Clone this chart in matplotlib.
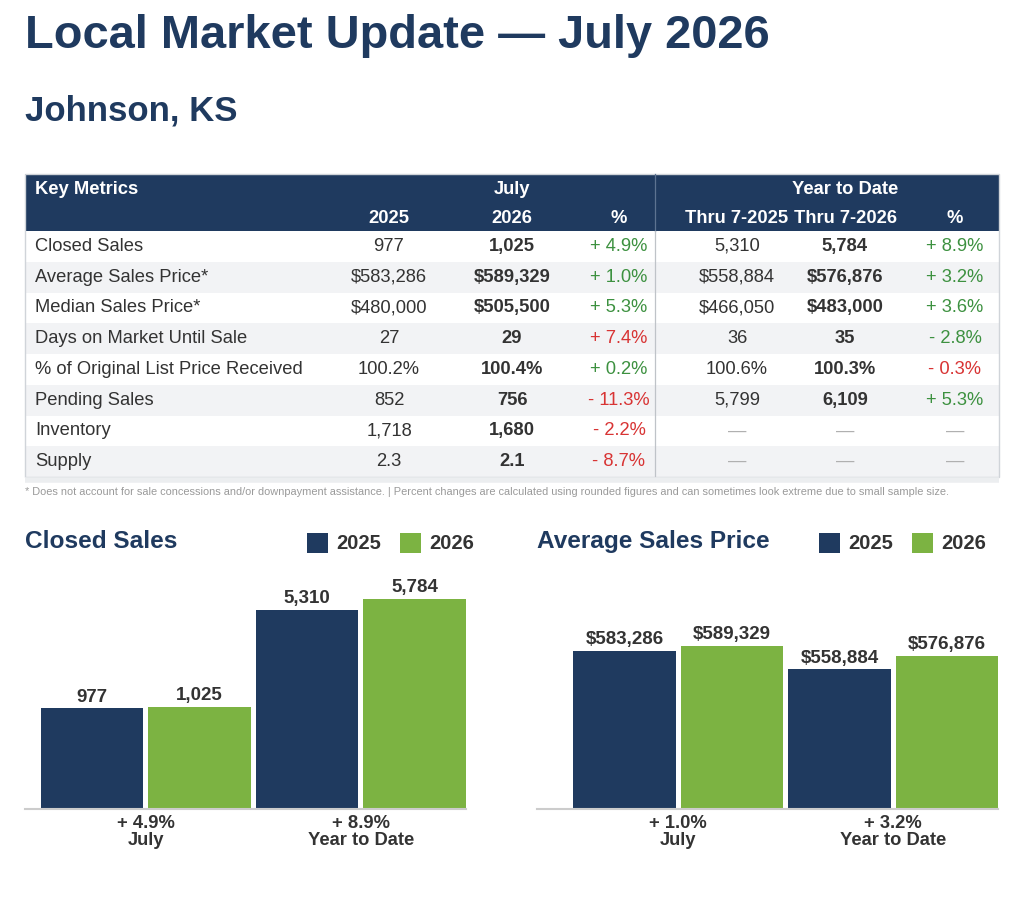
import matplotlib
matplotlib.use("Agg")
import matplotlib.pyplot as plt
from matplotlib.patches import Rectangle

plt.rcParams['font.family'] = ['Liberation Sans', 'DejaVu Sans']

# ---------------- data ----------------
title = "Local Market Update \u2014 July 2026"
subtitle = "Johnson, KS"

metrics = ["Closed Sales", "Average Sales Price*", "Median Sales Price*",
           "Days on Market Until Sale", "% of Original List Price Received",
           "Pending Sales", "Inventory", "Supply"]
july_2025 = ["977", "$583,286", "$480,000", "27", "100.2%", "852", "1,718", "2.3"]
july_2026 = ["1,025", "$589,329", "$505,500", "29", "100.4%", "756", "1,680", "2.1"]
july_pct = ["+ 4.9%", "+ 1.0%", "+ 5.3%", "+ 7.4%", "+ 0.2%", "- 11.3%", "- 2.2%", "- 8.7%"]
ytd_2025 = ["5,310", "$558,884", "$466,050", "36", "100.6%", "5,799", "\u2014", "\u2014"]
ytd_2026 = ["5,784", "$576,876", "$483,000", "35", "100.3%", "6,109", "\u2014", "\u2014"]
ytd_pct = ["+ 8.9%", "+ 3.2%", "+ 3.6%", "- 2.8%", "- 0.3%", "+ 5.3%", "\u2014", "\u2014"]
higher_is_better = [True, True, True, False, True, True, True, True]

header_top = ["Key Metrics", "July", "Year to Date"]
header_sub = ["2025", "2026", "%", "Thru 7-2025", "Thru 7-2026", "%"]

footnote = ("* Does not account for sale concessions and/or downpayment assistance. | "
            "Percent changes are calculated using rounded figures and can sometimes look "
            "extreme due to small sample size.")

periods = ["July", "Year to Date"]
years = ["2025", "2026"]
closed_2025 = [977, 5310]
closed_2026 = [1025, 5784]
closed_pct = ["+ 4.9%", "+ 8.9%"]
avg_2025 = [583286, 558884]
avg_2026 = [589329, 576876]
avg_pct = ["+ 1.0%", "+ 3.2%"]

# ---------------- style ----------------
W, H = 1024, 922
NAVY = "#1f3a5f"
GREEN_BAR = "#7cb342"
TXT = "#333333"
POS = "#3d9140"
NEG = "#d83434"
GRAYTXT = "#9a9a9a"
ROWALT = "#f2f3f5"
BORDER = "#d0d4d9"

fig = plt.figure(figsize=(W / 100, H / 100), dpi=100)
bg = fig.add_axes([0, 0, 1, 1])
bg.set_xlim(0, W)
bg.set_ylim(H, 0)
bg.axis("off")

# titles
bg.text(25, 48, title, fontsize=33.8, fontweight="bold", color=NAVY, va="baseline", ha="left")
bg.text(25, 121, subtitle, fontsize=25, fontweight="bold", color=NAVY, va="baseline", ha="left")

# ---------------- table ----------------
tl, tr = 25, 999
head_t, head_b = 174, 231
row_h = 30.75
n = len(metrics)
tab_b = head_b + n * row_h

bg.add_patch(Rectangle((tl, head_t), tr - tl, head_b - head_t, facecolor=NAVY, edgecolor="none"))
for i in range(n):
    y0 = head_b + i * row_h
    fc = ROWALT if i % 2 == 1 else "white"
    bg.add_patch(Rectangle((tl, y0), tr - tl, row_h, facecolor=fc, edgecolor="none"))
bg.add_patch(Rectangle((tl, head_t), tr - tl, tab_b - head_t, facecolor="none", edgecolor=BORDER, lw=1))
bg.plot([655, 655], [head_t, head_b], color="#5d7391", lw=0.9)
bg.plot([655, 655], [head_b, tab_b], color="#bfc3c8", lw=0.9)
bg.plot([tl, tr], [tab_b + 3, tab_b + 3], color="#eceef0", lw=4, solid_capstyle="butt")

fs_tab = 13.2
col_x = [389, 512, 619, 737, 845, 955]
bg.text(35, 190, header_top[0], color="white", fontsize=fs_tab, fontweight="bold", ha="left", va="center")
bg.text(512, 190, header_top[1], color="white", fontsize=fs_tab, fontweight="bold", ha="center", va="center")
bg.text(845, 190, header_top[2], color="white", fontsize=fs_tab, fontweight="bold", ha="center", va="center")
for x, lab in zip(col_x, header_sub):
    bg.text(x, 218, lab, color="white", fontsize=fs_tab, fontweight="bold", ha="center", va="center")


def pct_color(s, good_up):
    if s.startswith("+"):
        return POS if good_up else NEG
    if s.startswith("-"):
        return NEG if good_up else POS
    return GRAYTXT


for i in range(n):
    yc = head_b + i * row_h + row_h / 2
    bg.text(35, yc, metrics[i], color=TXT, fontsize=fs_tab, ha="left", va="center")
    cells = [july_2025[i], july_2026[i], july_pct[i], ytd_2025[i], ytd_2026[i], ytd_pct[i]]
    for j, (x, s) in enumerate(zip(col_x, cells)):
        if s == "\u2014":
            bg.text(x, yc, s, color="#b0b0b0", fontsize=fs_tab, ha="center", va="center")
            continue
        if j in (2, 5):
            bg.text(x, yc, s, color=pct_color(s, higher_is_better[i]), fontsize=fs_tab,
                    ha="center", va="center")
        else:
            bg.text(x, yc, s, color=TXT, fontsize=fs_tab, ha="center", va="center",
                    fontweight="bold" if j in (1, 4) else "normal")

bg.text(25, 492, footnote, color=GRAYTXT, fontsize=7.9, ha="left", va="center")

# ---------------- bar charts ----------------
def px_rect(l, t, r, b):
    return [l / W, 1 - b / H, (r - l) / W, (b - t) / H]


def bar_chart(rect, xleft, ylim, v25, v26, pct, fmt, title_txt, title_x, leg_x):
    ax = fig.add_axes(rect)
    xs25 = [0, 2]
    xs26 = [1, 3]
    floor = ylim[0]
    w = 0.954
    ax.bar(xs25, [v - floor for v in v25], bottom=floor, width=w, color=NAVY, edgecolor="none")
    ax.bar(xs26, [v - floor for v in v26], bottom=floor, width=w, color=GREEN_BAR, edgecolor="none")
    for x, v in list(zip(xs25, v25)) + list(zip(xs26, v26)):
        ax.annotate(fmt(v), (x, v), xytext=(0, 2), textcoords="offset points",
                    ha="center", va="bottom", fontsize=13.5, fontweight="bold", color=TXT)
    ax.set_xlim(xleft, 3 + w / 2)
    ax.set_ylim(*ylim)
    for s in ["top", "right", "left"]:
        ax.spines[s].set_visible(False)
    ax.spines["bottom"].set_color("#cccccc")
    ax.spines["bottom"].set_linewidth(1.5)
    ax.set_yticks([])
    ax.set_xticks([0.5, 2.5])
    ax.set_xticklabels([f"{p}\n{c}" for p, c in zip(pct, periods)], fontsize=13.2,
                       fontweight="bold", color=TXT, linespacing=1.0)
    ax.tick_params(axis="x", length=0, pad=4)
    ax.patch.set_alpha(0)
    # title and legend
    bg.text(title_x, 541, title_txt, fontsize=17.6, fontweight="bold", color=NAVY, ha="left", va="center")
    for k, (yr, col) in enumerate(zip(years, [NAVY, GREEN_BAR])):
        lx = leg_x + k * 93
        bg.add_patch(Rectangle((lx, 533), 21, 20, facecolor=col, edgecolor="none"))
        bg.text(lx + 29, 543, yr, fontsize=14.5, fontweight="bold", color=TXT, ha="left", va="center")
    return ax


bar_chart(px_rect(25, 560, 466, 809), -0.625, (-3443, 7492), closed_2025, closed_2026,
          closed_pct, lambda v: f"{v:,}", "Closed Sales", 25, 307)
bar_chart(px_rect(537, 560, 998.3, 809), -0.814, (378400, 700500), avg_2025, avg_2026,
          avg_pct, lambda v: f"${v:,}", "Average Sales Price", 537, 819)

fig.savefig("out.png", dpi=100)
